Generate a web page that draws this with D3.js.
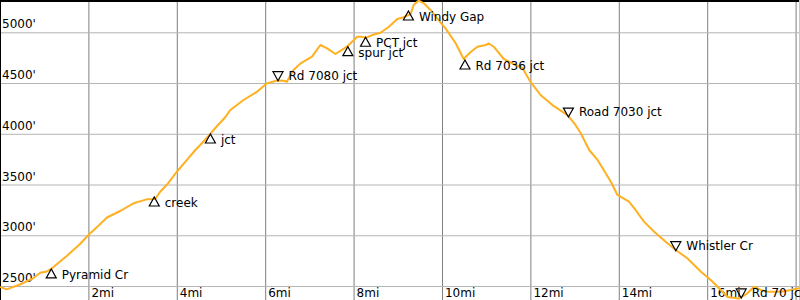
<!DOCTYPE html>
<html>
<head>
  <meta charset="utf-8">
  <title>Elevation profile</title>
  <script src="https://d3js.org/d3.v7.min.js"></script>
  <style>
    html, body { margin: 0; padding: 0; background: #fff; }
    svg { display: block; font-family: "DejaVu Sans", sans-serif; font-size: 12px; }
  </style>
</head>
<body>
  <div id="chart"></div>

  <script>
    // profile (miles, feet)
    var profileMiles = [0.00, 0.15, 0.45, 0.75, 0.91, 1.06, 1.16, 1.25, 1.51, 1.81, 2.00, 2.19, 2.42, 2.72,
      3.02, 3.32, 3.51, 3.62, 3.78, 4.00, 4.23, 4.42, 4.53, 4.76, 4.83, 5.10, 5.21, 5.51, 5.81, 6.04,
      6.27, 6.42, 6.49, 6.64, 6.80, 7.06, 7.25, 7.40, 7.59, 7.85, 8.08, 8.19, 8.27, 8.42, 8.61, 8.80,
      8.99, 9.13, 9.29, 9.36, 9.47, 9.59, 9.74, 9.89, 10.08, 10.31, 10.49, 10.65, 10.80, 10.99, 11.06,
      11.17, 11.40, 11.59, 11.82, 12.00, 12.23, 12.50, 12.72, 12.86, 13.02, 13.14, 13.33, 13.52, 13.66,
      13.82, 13.97, 14.23, 14.38, 14.57, 14.80, 15.10, 15.29, 15.55, 15.86, 16.08, 16.23, 16.46, 16.72,
      16.91, 17.06, 17.21, 17.37, 17.67, 17.89, 18.12];
    var profileFeet = [2490, 2467, 2515, 2576, 2631, 2643, 2668, 2702, 2796, 2914, 3003, 3078, 3175, 3239,
      3315, 3354, 3357, 3426, 3500, 3626, 3742, 3840, 3889, 3998, 4037, 4165, 4234, 4333, 4412, 4497,
      4525, 4523, 4513, 4628, 4694, 4760, 4875, 4842, 4786, 4858, 4957, 4957, 4944, 4973, 4996, 5055,
      5131, 5148, 5180, 5269, 5313, 5286, 5220, 5138, 5039, 4892, 4737, 4806, 4858, 4875, 4890,
      4858, 4737, 4693, 4648, 4513, 4382, 4283, 4218, 4175, 4087, 4005, 3840, 3742, 3643,
      3528, 3397, 3331, 3249, 3134, 3035, 2921, 2855, 2773, 2641, 2559, 2495, 2392, 2377,
      2428, 2493, 2461, 2444, 2444, 2461, 2483];

    // waypoints
    var markerNames = ["Pyramid Cr", "creek", "jct", "Rd 7080 jct", "spur jct", "PCT jct", "Windy Gap",
      "Rd 7036 jct", "Road 7030 jct", "Whistler Cr", "Rd 70 jct"];
    var markerMiles = [1.16, 3.49, 4.76, 6.29, 7.87, 8.27, 9.24, 10.52, 12.86, 15.29, 16.77];
    var markerFeet = [2668, 3377, 3998, 4523, 4858, 4951, 5210, 4727, 4165, 2848, 2382];
    var markerUp = [true, true, true, false, true, true, true, true, false, false, false];

    // ticks
    var mileTicks = [2, 4, 6, 8, 10, 12, 14, 16, 18];
    var mileLabels = ["2mi", "4mi", "6mi", "8mi", "10mi", "12mi", "14mi", "16mi", ""];
    var footTicks = [2500, 3000, 3500, 4000, 4500, 5000];
    var footLabels = ["2500'", "3000'", "3500'", "4000'", "4500'", "5000'"];

    var width = 800, height = 300;

    var x = d3.scaleLinear().domain([0, 18.1]).range([0, width]);
    var y = d3.scaleLinear().domain([2500, 5000]).range([286, 32.3]);

    var svg = d3.select("#chart").append("svg")
      .attr("width", width)
      .attr("height", height);

    // vertical grid
    var gx = svg.append("g")
      .attr("transform", "translate(0," + height + ")")
      .call(d3.axisBottom(x).tickValues(mileTicks).tickSize(-height).tickFormat(""));
    gx.select(".domain").remove();
    gx.selectAll("line").attr("stroke", "#7f7f7f");

    // horizontal grid
    var gy = svg.append("g")
      .call(d3.axisLeft(y).tickValues(footTicks).tickSize(-width).tickFormat(""));
    gy.select(".domain").remove();
    gy.selectAll("line").attr("stroke", "#b4b4b4");

    // frame
    svg.append("line").attr("x1", 0).attr("x2", width).attr("y1", 1).attr("y2", 1)
      .attr("stroke", "#000").attr("stroke-width", 2);
    svg.append("line").attr("x1", 0.5).attr("x2", 0.5).attr("y1", 0).attr("y2", height)
      .attr("stroke", "#000").attr("stroke-width", 1);
    svg.append("line").attr("x1", width - 0.5).attr("x2", width - 0.5).attr("y1", 0).attr("y2", height)
      .attr("stroke", "#c8c8c8").attr("stroke-width", 1);

    // axis labels
    svg.selectAll(".ylab")
      .data(footTicks)
      .enter().append("text")
      .attr("class", "ylab")
      .attr("x", 2)
      .attr("y", d => y(d) - 4)
      .attr("fill", "#000")
      .text((d, i) => footLabels[i]);

    svg.selectAll(".xlab")
      .data(mileTicks)
      .enter().append("text")
      .attr("class", "xlab")
      .attr("x", d => x(d) + 3)
      .attr("y", y(2500) + 11)
      .attr("fill", "#000")
      .text((d, i) => mileLabels[i]);

    // profile line
    var line = d3.line()
      .x(d => x(d[0]))
      .y(d => y(d[1]));

    svg.append("path")
      .datum(d3.zip(profileMiles, profileFeet))
      .attr("fill", "none")
      .attr("stroke", "#ffb020")
      .attr("stroke-width", 2)
      .attr("stroke-linejoin", "round")
      .attr("d", line);

    // waypoint markers
    var markers = markerNames.map((name, i) => ({
      name: name, mi: markerMiles[i], ft: markerFeet[i], up: markerUp[i]
    }));

    var mg = svg.selectAll(".marker")
      .data(markers)
      .enter().append("g")
      .attr("class", "marker")
      .attr("transform", d => "translate(" + x(d.mi) + "," + y(d.ft) + ")");

    mg.append("path")
      .attr("d", d => d.up ? "M0,0L-5,9L5,9Z" : "M0,0L-5,-9L5,-9Z")
      .attr("fill", "none")
      .attr("stroke", "#000")
      .attr("stroke-width", 1.2)
      .attr("stroke-linejoin", "miter");

    mg.append("text")
      .attr("x", 10.5)
      .attr("y", d => d.up ? 10 : -1)
      .attr("fill", "#000")
      .text(d => d.name);
  </script>
</body>
</html>
